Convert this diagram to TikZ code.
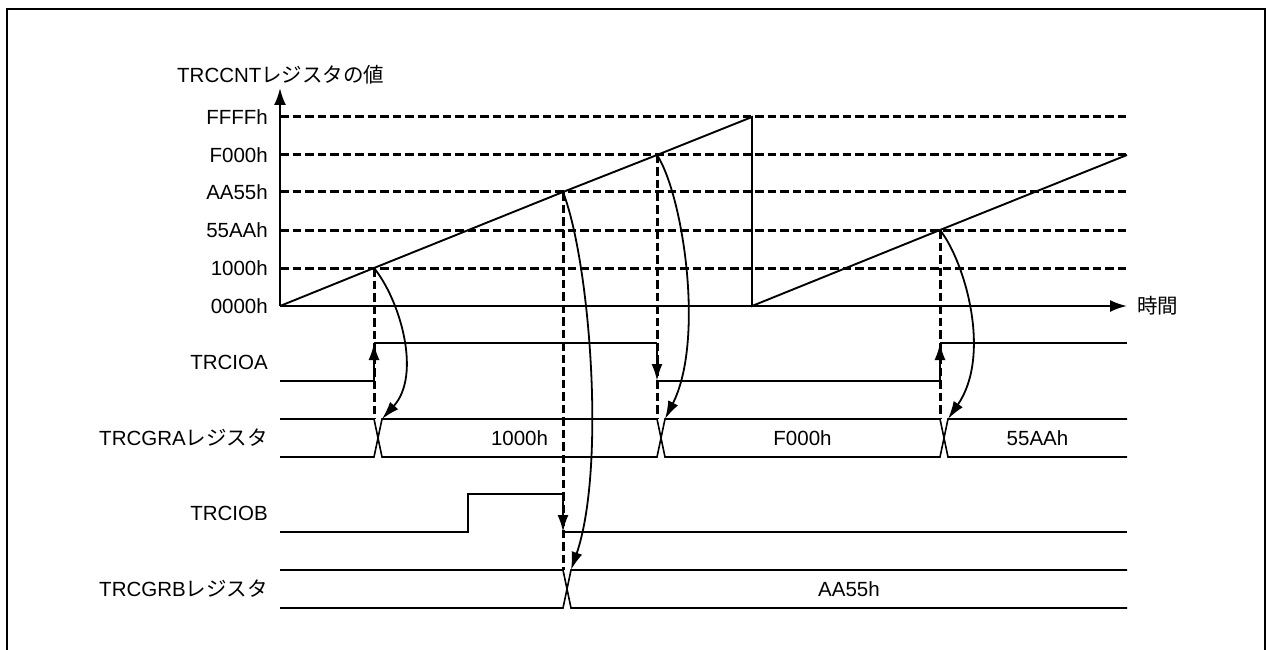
\documentclass[tikz,border=0pt]{standalone}
\usepackage{fontspec}
\setmainfont{Liberation Sans}
\newfontfamily\cjk{Noto Sans CJK JP}
\usetikzlibrary{arrows.meta}
\begin{document}
\begin{tikzpicture}[x=1pt,y=-1pt,
  lbl/.style={font=\fontsize{20.5}{24}\selectfont, inner sep=0pt},
  guide/.style={line width=3pt, dash pattern=on 8.5pt off 4pt},
  sig/.style={line width=1.6pt},
  ramp/.style={line width=1.9pt},
  axisline/.style={line width=2.2pt, -{Latex[length=17pt,width=12pt]}},
  trig/.style={line width=2.2pt, -{Latex[length=17pt,width=11pt]}},
  capcurve/.style={line width=1.8pt, -{Latex[length=18pt,width=11pt]}},
  frameline/.style={line width=2.8pt}]
\useasboundingbox (0,0) rectangle (1267,650);
\draw[frameline] (7,660) -- (7,9) -- (1265,9) -- (1265,660);

% axis labels
\node[lbl, anchor=base west] (ttl) at (177,82.5) {TRCCNT{\cjk レジスタの値}};
\node[lbl, anchor=base east] (lF) at (268,124.3) {FFFFh};
\node[lbl, anchor=base east] (lE) at (268,162.3) {F000h};
\node[lbl, anchor=base east] (lD) at (268,199.3) {AA55h};
\node[lbl, anchor=base east] (lC) at (268,237.3) {55AAh};
\node[lbl, anchor=base east] (lB) at (268,275.3) {1000h};
\node[lbl, anchor=base east] (lA) at (268,313.3) {0000h};
\node[lbl, anchor=base west] (tm) at (1137,313.3) {\cjk 時間};

% signal labels
\node[lbl, anchor=base east] (sA) at (268,369.3) {TRCIOA};
\node[lbl, anchor=base east] (sGA) at (268,445.3) {TRCGRA{\cjk レジスタ}};
\node[lbl, anchor=base east] (sB) at (268,520.3) {TRCIOB};
\node[lbl, anchor=base east] (sGB) at (268,596.3) {TRCGRB{\cjk レジスタ}};

% coordinates
\coordinate (o) at (280,306);
\coordinate (ytop) at (280,88);
\coordinate (xend) at (1127,306);
\foreach \n/\y in {F/117,E/155,D/192,C/230,B/268}{
  \coordinate (g\n0) at (280,\y);
  \coordinate (g\n1) at (1127,\y);
}
\coordinate (p1) at (374,268);
\coordinate (p2) at (563,192);
\coordinate (p3) at (657,155);
\coordinate (top) at (752,117);
\coordinate (bot) at (752,306);
\coordinate (p4) at (940,230);
\coordinate (rend) at (1127,155);

% dashed level lines
\foreach \n in {F,E,D,C,B}{\draw[guide] (g\n0) -- (g\n1);}

% axes
\draw[axisline] (o) -- (ytop);
\draw[axisline] (o) -- (xend);

% counter ramps
\draw[ramp] (o) -- (p1) -- (p2) -- (p3) -- (top) -- (bot) -- (p4) -- (rend);

% TRCIOA
\draw[sig] (280,381) -- (374,381);
\draw[sig] (374,343) -- (657,343);
\draw[sig] (657,381) -- (940,381);
\draw[sig] (940,343) -- (1127,343);

% TRCGRA bus
\draw[sig] (280,419) -- (374,419) -- (382,457) -- (657,457) -- (665,419) -- (940,419) -- (948,457) -- (1127,457);
\draw[sig] (280,457) -- (374,457) -- (382,419) -- (657,419) -- (665,457) -- (940,457) -- (948,419) -- (1127,419);
\node[lbl] (vA1) at (519.5,438) {1000h};
\node[lbl] (vA2) at (802.5,438) {F000h};
\node[lbl] (vA3) at (1037.5,438) {55AAh};

% TRCIOB
\draw[sig] (280,532) -- (468,532) -- (468,494) -- (563,494);
\draw[sig] (563,532) -- (1127,532);

% TRCGRB bus
\draw[sig] (280,570) -- (563,570) -- (571,608) -- (1127,608);
\draw[sig] (280,608) -- (563,608) -- (571,570) -- (1127,570);
\node[lbl] (vB1) at (849,589) {AA55h};

% capture dashed verticals
\coordinate (d1) at (374,419);
\coordinate (d2) at (563,570);
\coordinate (d3) at (657,419);
\coordinate (d4) at (940,419);
\draw[guide] (p1) -- (d1);
\draw[guide] (p2) -- (d2);
\draw[guide] (p3) -- (d3);
\draw[guide] (p4) -- (d4);

% edge arrows
\coordinate (e1a) at (374,381); \coordinate (e1b) at (374,343);
\coordinate (e2a) at (563,494); \coordinate (e2b) at (563,532);
\coordinate (e3a) at (657,343); \coordinate (e3b) at (657,381);
\coordinate (e4a) at (940,381); \coordinate (e4b) at (940,343);
\draw[trig] (e1a) -- (e1b);
\draw[trig] (e2a) -- (e2b);
\draw[trig] (e3a) -- (e3b);
\draw[trig] (e4a) -- (e4b);

% capture curves
\coordinate (c1) at (382,419);
\coordinate (c2) at (571,570);
\coordinate (c3) at (665,419);
\coordinate (c4) at (948,419);
\draw[capcurve] (p1) .. controls (400,300) and (422,375) .. (c1);
\draw[capcurve] (p2) .. controls (590,262) and (606,468) .. (c2);
\draw[capcurve] (p3) .. controls (683,195) and (705,340) .. (c3);
\draw[capcurve] (p4) .. controls (965,262) and (992,355) .. (c4);
\end{tikzpicture}
\end{document}
